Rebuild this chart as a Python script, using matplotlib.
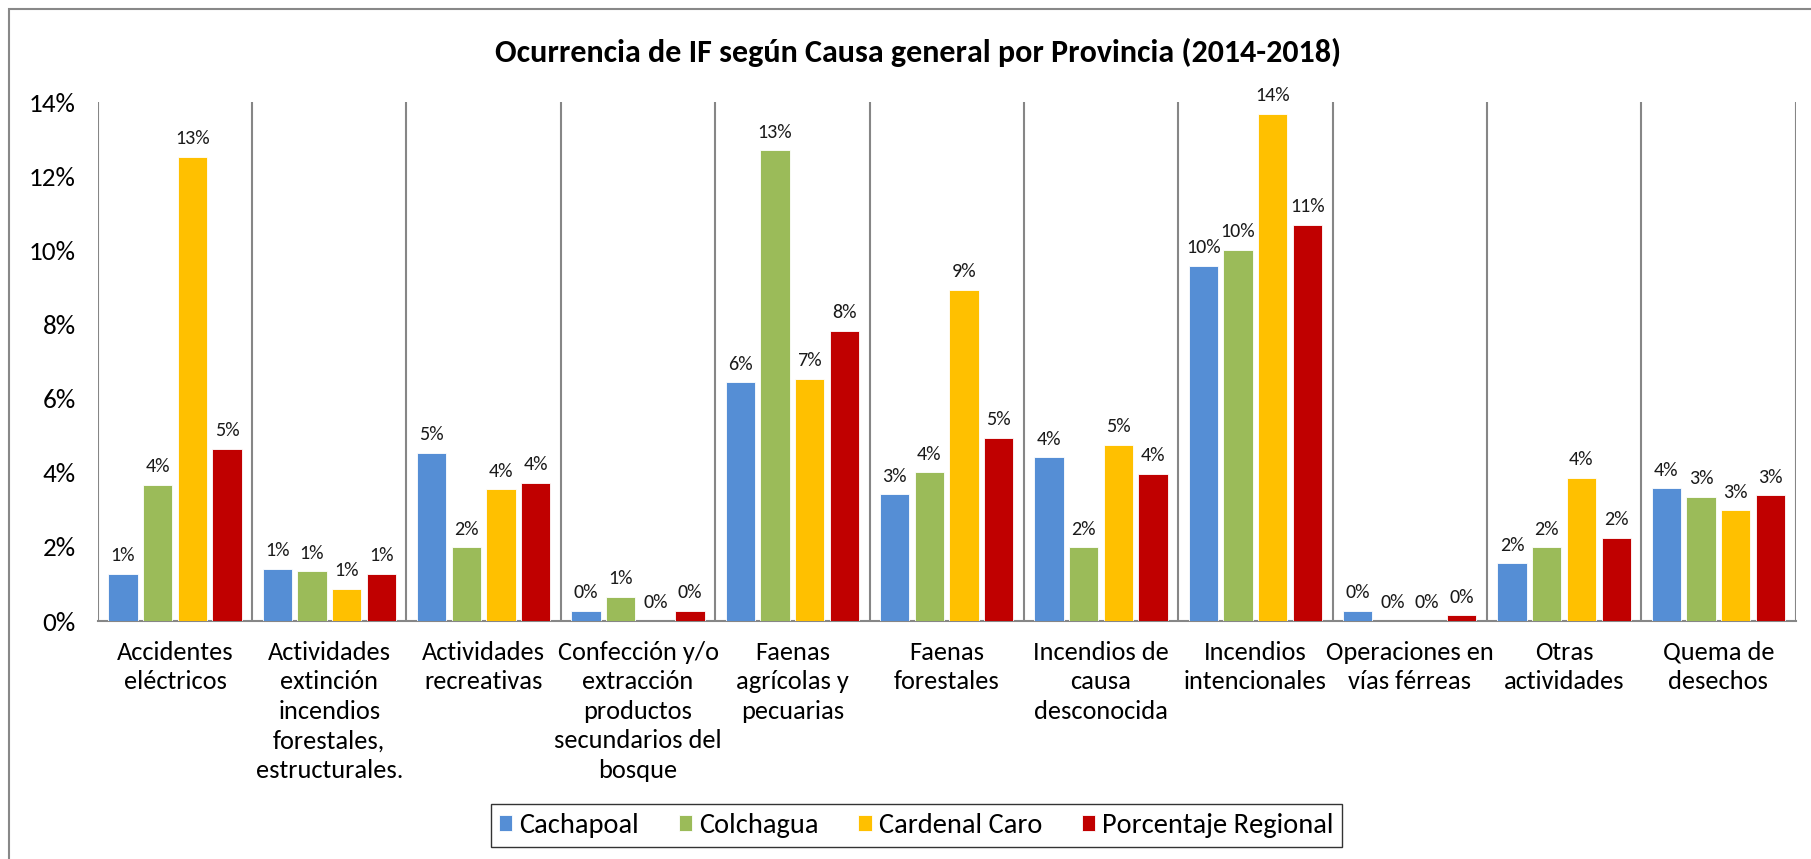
import matplotlib
matplotlib.use('Agg')
import matplotlib.pyplot as plt
import numpy as np
from matplotlib import font_manager
from matplotlib.patches import Rectangle

# pick a Calibri-like font if one is there
available = set(f.name for f in font_manager.fontManager.ttflist)
for fam in ['Carlito', 'Lato', 'Open Sans', 'DejaVu Sans']:
    if fam in available:
        plt.rcParams['font.family'] = fam
        break

categories = ['Accidentes\neléctricos',
              'Actividades\nextinción\nincendios\nforestales,\nestructurales.',
              'Actividades\nrecreativas',
              'Confección y/o\nextracción\nproductos\nsecundarios del\nbosque',
              'Faenas\nagrícolas y\npecuarias',
              'Faenas\nforestales',
              'Incendios de\ncausa\ndesconocida',
              'Incendios\nintencionales',
              'Operaciones en\nvías férreas',
              'Otras\nactividades',
              'Quema de\ndesechos']

# values in percent
cachapoal = [1.28, 1.40, 4.54, 0.28, 6.44, 3.42, 4.42, 9.58, 0.28, 1.56, 3.58]
colchagua = [3.67, 1.34, 1.99, 0.65, 12.70, 4.01, 1.99, 10.02, 0.0, 1.99, 3.36]
cardenal_caro = [12.52, 0.87, 3.55, 0.0, 6.53, 8.93, 4.76, 13.69, 0.0, 3.86, 2.99]
regional = [4.64, 1.28, 3.73, 0.28, 7.84, 4.95, 3.98, 10.70, 0.15, 2.24, 3.39]

series_names = ['Cachapoal', 'Colchagua', 'Cardenal Caro', 'Porcentaje Regional']
colors = ['#558ED5', '#9BBB59', '#FFC000', '#C00000']
yticks = [0, 2, 4, 6, 8, 10, 12, 14]

fig = plt.figure(figsize=(18.11, 8.59), dpi=100)
ax = fig.add_axes([0.054, 0.277, 0.9375, 0.604])

# outer chart border (right and bottom fall outside the picture)
fig.patches.append(Rectangle((9/1811, -0.05), 1.1, 1 - 9/859 + 0.05,
                             transform=fig.transFigure, fill=False,
                             edgecolor='#888888', linewidth=1.5))

x = np.arange(len(categories))
step = 0.225
width = 0.19
all_series = [cachapoal, colchagua, cardenal_caro, regional]
for i, (vals, name, c) in enumerate(zip(all_series, series_names, colors)):
    pos = x + (i - 1.5) * step
    bars = ax.bar(pos, vals, width, color=c, label=name,
                  edgecolor='white', linewidth=0.6, zorder=3)
    for b, v in zip(bars, vals):
        ax.annotate('%d%%' % round(v), (b.get_x() + b.get_width()/2, v),
                    xytext=(0, 7), textcoords='offset points',
                    ha='center', va='bottom', fontsize=14.5, color='#1a1a1a')

ax.set_xlim(-0.5, len(categories) - 0.5)
ax.set_ylim(0, 14)
ax.set_yticks(yticks)
ax.set_yticklabels(['%d%%' % t for t in yticks], fontsize=19.5)
ax.tick_params(axis='y', length=0, pad=16)

ax.set_xticks(x)
ax.set_xticklabels(categories, fontsize=19, linespacing=1.35, va='top')
ax.tick_params(axis='x', length=0, pad=14)

# category separators
for sep in np.arange(-0.5, len(categories), 1.0):
    ax.axvline(sep, color='#868686', linewidth=1.5, zorder=1)

for s in ['top', 'right', 'left']:
    ax.spines[s].set_visible(False)
ax.spines['bottom'].set_color('#868686')
ax.spines['bottom'].set_linewidth(1.5)

fig.text(0.507, 0.939, 'Ocurrencia de IF según Causa general por Provincia (2014-2018)',
         ha='center', va='center', fontsize=23, fontweight='bold')

leg = fig.legend(loc='center', bbox_to_anchor=(0.506, 0.039), ncol=4,
                 fontsize=20.5, frameon=True, fancybox=False, handlelength=0.46,
                 handleheight=0.46, handletextpad=0.25, columnspacing=1.4,
                 borderpad=0.3)
leg.get_frame().set_edgecolor('#000000')
leg.get_frame().set_linewidth(1.0)

fig.savefig('out.png', dpi=100)
